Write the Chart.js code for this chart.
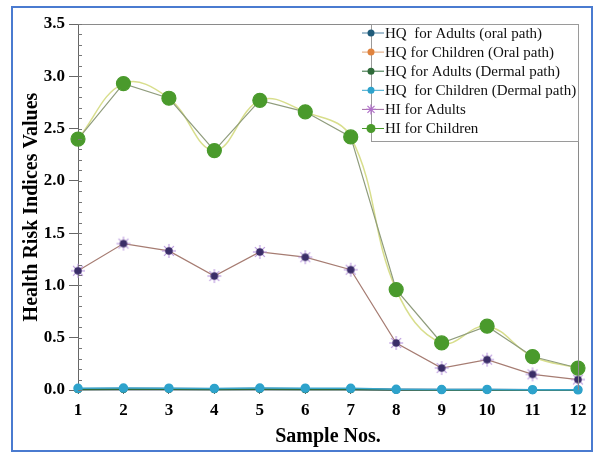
<!DOCTYPE html>
<html>
<head>
<meta charset="utf-8">
<script src="https://cdn.jsdelivr.net/npm/chart.js@4"></script>
<style>
  html, body { margin: 0; padding: 0; background: #fff; overflow: hidden; }
  #wrap { width: 595px; height: 453px; position: relative; }
  canvas { display: block; }
</style>
</head>
<body>
<div id="wrap"><canvas id="riskChart" width="595" height="453"></canvas></div>
<script>
// 샘플 번호
var samples = ['1', '2', '3', '4', '5', '6', '7', '8', '9', '10', '11', '12'];

// HQ 값 (거의 0)
var hqAdultsOral = [0.010, 0.011, 0.011, 0.009, 0.011, 0.010, 0.009, 0.003, 0.002, 0.002, 0.001, 0.001];
var hqChildrenOral = [0.012, 0.013, 0.013, 0.011, 0.013, 0.012, 0.011, 0.004, 0.002, 0.003, 0.002, 0.001];
var hqAdultsDermal = [0.005, 0.006, 0.006, 0.005, 0.006, 0.005, 0.005, 0.002, 0.001, 0.001, 0.001, 0.001];
var hqChildrenDermal = [0.016, 0.018, 0.017, 0.015, 0.018, 0.017, 0.016, 0.006, 0.004, 0.005, 0.003, 0.002];

// HI 값
var hiAdults = [1.14, 1.40, 1.33, 1.09, 1.32, 1.27, 1.15, 0.45, 0.21, 0.29, 0.15, 0.10];
var hiChildren = [2.40, 2.93, 2.79, 2.29, 2.77, 2.66, 2.42, 0.96, 0.45, 0.61, 0.32, 0.21];

// y축 눈금
var yMin = 0, yMax = 3.5, yStep = 0.5, yMinorStep = 0.1;

var serif = '"Liberation Serif", "Times New Roman", serif';

// HI 성인용 마커 (별 + 진한 점)
function makeStarDot() {
    var c = document.createElement('canvas');
    c.width = 16; c.height = 16;
    var g = c.getContext('2d');
    g.strokeStyle = '#b794dc';
    g.lineWidth = 1.1;
    for (var i = 0; i < 4; i++) {
        var a = i * Math.PI / 4;
        g.beginPath();
        g.moveTo(8 - Math.cos(a) * 7, 8 - Math.sin(a) * 7);
        g.lineTo(8 + Math.cos(a) * 7, 8 + Math.sin(a) * 7);
        g.stroke();
    }
    g.fillStyle = '#3a2d68';
    g.beginPath();
    g.arc(8, 8, 3.8, 0, Math.PI * 2);
    g.fill();
    return c;
}
var starDot = makeStarDot();

// 바깥 파란 테두리 + 위/오른쪽 프레임 + 보조 눈금 + 범례
var decorPlugin = {
    id: 'decor',
    beforeDraw: function(chart) {
        var ctx = chart.ctx;
        ctx.save();
        ctx.fillStyle = '#fff';
        ctx.fillRect(0, 0, chart.width, chart.height);
        ctx.strokeStyle = '#4a7bd0';
        ctx.lineWidth = 2;
        ctx.strokeRect(12, 7, 580, 444);
        ctx.restore();
    },
    afterDraw: function(chart) {
        var ctx = chart.ctx;
        var area = chart.chartArea;
        var y = chart.scales.y;
        ctx.save();
        ctx.strokeStyle = '#8a8a8a';
        ctx.lineWidth = 1;
        ctx.beginPath();
        ctx.moveTo(area.left, area.top + 0.5);
        ctx.lineTo(area.right + 0.5, area.top + 0.5);
        ctx.lineTo(area.right + 0.5, area.bottom);
        ctx.stroke();

        // 보조 눈금
        ctx.strokeStyle = '#777';
        ctx.beginPath();
        for (var v = yMin; v <= yMax + 1e-9; v += yMinorStep) {
            var py = Math.round(y.getPixelForValue(v)) + 0.5;
            ctx.moveTo(area.left, py);
            ctx.lineTo(area.left + 4, py);
        }
        ctx.stroke();

        // 범례
        var lx = 371, ly = 33, gap = 19.1;
        ctx.strokeStyle = '#9a9a9a';
        ctx.strokeRect(371.5, 24.5, area.right - 371, 117);
        ctx.font = '15px ' + serif;
        ctx.textBaseline = 'middle';
        var k = 0;
        chart.data.datasets.slice().reverse().forEach(function(ds) {
            if (ds.noLegend) return;
            var cy = ly + k * gap;
            var mk = ds.legendMarker || ds.pointBackgroundColor;
            ctx.strokeStyle = ds.legendLine || ds.borderColor;
            ctx.lineWidth = 1;
            ctx.beginPath();
            ctx.moveTo(lx - 9, cy);
            ctx.lineTo(lx + 13, cy);
            ctx.stroke();
            ctx.fillStyle = mk;
            ctx.strokeStyle = mk;
            ctx.lineWidth = 1.2;
            ctx.beginPath();
            if (ds.legendStyle === 'star') {
                for (var i = 0; i < 4; i++) {
                    var a = i * Math.PI / 4;
                    ctx.moveTo(lx - Math.cos(a) * 5, cy - Math.sin(a) * 5);
                    ctx.lineTo(lx + Math.cos(a) * 5, cy + Math.sin(a) * 5);
                }
                ctx.stroke();
            } else {
                ctx.arc(lx, cy, ds.legendRadius || 3.5, 0, Math.PI * 2);
                ctx.fill();
            }
            ctx.fillStyle = '#111';
            ctx.fillText(ds.label, lx + 14, cy + 1);
            k++;
        });
        ctx.restore();
    }
};

var ctx = document.getElementById('riskChart').getContext('2d');
new Chart(ctx, {
    type: 'line',
    data: {
        labels: samples,
        datasets: [{
            label: 'HI for Children',
            data: hiChildren,
            borderColor: '#8f9c7c',
            borderWidth: 1.2,
            pointRadius: 7,
            pointBackgroundColor: '#4a9a2c',
            pointBorderColor: '#4a9a2c',
            legendLine: '#4a9a2c',
            legendRadius: 4.5,
            order: 0
        }, {
            label: 'HI for Children (smooth)',
            noLegend: true,
            data: hiChildren,
            borderColor: '#d8de8c',
            borderWidth: 1.5,
            tension: 0.4,
            pointRadius: 0,
            order: 1
        }, {
            label: 'HI for Adults',
            data: hiAdults,
            borderColor: '#a67c72',
            borderWidth: 1.2,
            pointStyle: starDot,
            pointBackgroundColor: '#3a2d68',
            legendStyle: 'star',
            legendMarker: '#b070c8',
            legendLine: '#a06aa0',
            order: 2
        }, {
            label: 'HQ  for Children (Dermal path)',
            data: hqChildrenDermal,
            borderColor: '#3aa6cc',
            borderWidth: 1.5,
            pointRadius: 4,
            pointBackgroundColor: '#2ea3cc',
            pointBorderColor: '#2ea3cc',
            order: 3
        }, {
            label: 'HQ for Adults (Dermal path)',
            data: hqAdultsDermal,
            borderColor: '#2f6b3a',
            borderWidth: 1.5,
            pointRadius: 3,
            pointBackgroundColor: '#2f6b3a',
            pointBorderColor: '#2f6b3a',
            order: 4
        }, {
            label: 'HQ for Children (Oral path)',
            data: hqChildrenOral,
            borderColor: '#7a7f8c',
            borderWidth: 1.5,
            pointRadius: 3,
            pointBackgroundColor: '#e0833e',
            pointBorderColor: '#e0833e',
            legendLine: '#e0a070',
            order: 5
        }, {
            label: 'HQ  for Adults (oral path)',
            data: hqAdultsOral,
            borderColor: '#4a5e78',
            borderWidth: 2,
            pointRadius: 3,
            pointBackgroundColor: '#1f5b7a',
            pointBorderColor: '#1f5b7a',
            legendLine: '#4a7ea0',
            order: 6
        }]
    },
    options: {
        responsive: false,
        animation: false,
        clip: false,
        devicePixelRatio: 1,
        layout: { padding: { top: 24, right: 17, left: 0, bottom: 0 } },
        plugins: {
            legend: { display: false },
            tooltip: { enabled: false }
        },
        scales: {
            x: {
                type: 'category',
                offset: false,
                afterFit: function(s) { s.height = 63; },
                grid: { drawOnChartArea: false, tickLength: 4, color: '#666' },
                border: { color: '#5a6470', width: 1.5 },
                ticks: {
                    padding: 6,
                    color: '#000',
                    maxRotation: 0,
                    font: { family: serif, size: 17, weight: 'bold' }
                },
                title: {
                    display: true,
                    text: 'Sample Nos.',
                    color: '#000',
                    padding: { top: 0, bottom: 4 },
                    font: { family: serif, size: 20, weight: 'bold' }
                }
            },
            y: {
                min: yMin,
                max: yMax,
                afterFit: function(s) { s.width = 78; },
                grid: { drawOnChartArea: false, tickLength: 9, color: '#666' },
                border: { color: '#666', width: 1 },
                ticks: {
                    stepSize: yStep,
                    padding: 4,
                    color: '#000',
                    font: { family: serif, size: 17, weight: 'bold' },
                    callback: function(v) { return Number(v).toFixed(1); }
                },
                title: {
                    display: true,
                    text: 'Health Risk Indices Values',
                    color: '#000',
                    padding: { top: 20, bottom: 0 },
                    font: { family: serif, size: 20, weight: 'bold' }
                }
            }
        }
    },
    plugins: [decorPlugin]
});
</script>
</body>
</html>
